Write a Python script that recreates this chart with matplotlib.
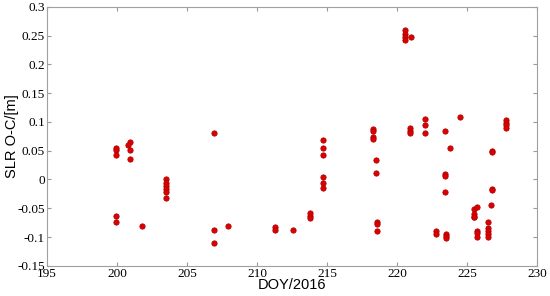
import matplotlib
matplotlib.use("Agg")
import matplotlib.pyplot as plt
import numpy as np

doy = [199.9, 199.9, 199.9, 199.9, 199.9,
       200.9, 200.8, 200.9, 200.9,
       201.8,
       203.5, 203.5, 203.5, 203.5, 203.5, 203.5,
       206.9, 206.9, 206.9,
       207.9,
       211.3, 211.3,
       212.55,
       213.8, 213.8, 213.8,
       214.7, 214.7, 214.7, 214.7, 214.7, 214.7,
       218.3, 218.3, 218.3, 218.3,
       218.5, 218.5,
       218.6, 218.6, 218.6,
       220.55, 220.55, 220.55, 220.55,
       221.0,
       220.9, 220.9, 220.9,
       222.0, 222.0, 222.0,
       223.4, 223.4, 223.4, 223.4,
       223.8,
       224.5,
       222.8, 222.8,
       223.5, 223.5, 223.5,
       225.5, 225.5, 225.5, 225.5,
       225.7, 225.7, 225.7, 225.7,
       226.5, 226.5, 226.5, 226.5, 226.5,
       226.7,
       226.8, 226.8, 226.8, 226.8,
       227.8, 227.8, 227.8, 227.8]

oc = [0.055, 0.051, 0.042, -0.064, -0.074,
      0.065, 0.060, 0.052, 0.035,
      -0.081,
      0.000, -0.006, -0.012, -0.017, -0.021, -0.033,
      0.080, -0.088, -0.110,
      -0.081,
      -0.083, -0.087,
      -0.088,
      -0.059, -0.063, -0.067,
      0.068, 0.055, 0.043, 0.005, -0.006, -0.015,
      0.087, 0.085, 0.074, 0.071,
      0.034, 0.012,
      -0.0745, -0.077, -0.089,
      0.259, 0.252, 0.247, 0.243,
      0.248,
      0.089, 0.085, 0.080,
      0.105, 0.094, 0.080,
      0.084, 0.009, 0.006, -0.021,
      0.055,
      0.109,
      -0.090, -0.095,
      -0.095, -0.099, -0.102,
      -0.051, -0.060, -0.065, -0.066,
      -0.048, -0.089, -0.093, -0.100,
      -0.0745, -0.084, -0.089, -0.095, -0.0995,
      -0.045,
      0.049, 0.048, -0.016, -0.019,
      0.103, 0.098, 0.094, 0.089]

x_ticks = np.arange(195, 231, 5)
y_ticks = [-0.15, -0.1, -0.05, 0, 0.05, 0.1, 0.15, 0.2, 0.25, 0.3]
y_labels = ["-0.15", "-0.1", "-0.05", "0", "0.05", "0.1", "0.15", "0.2", "0.25", "0.3"]

fig = plt.figure(figsize=(5.5, 2.96), dpi=100)
ax = fig.add_axes([0.0855, 0.102, 0.891, 0.875])

ax.plot(doy, oc, "o", color="#dc0000", markeredgecolor="#b40000",
        markersize=3.8, markeredgewidth=0.6)

ax.set_xlim(195, 230)
ax.set_ylim(-0.15, 0.3)
ax.set_xticks(x_ticks)
ax.set_yticks(y_ticks)
ax.set_yticklabels(y_labels)

for lab in ax.get_xticklabels() + ax.get_yticklabels():
    lab.set_family("Liberation Serif")
    lab.set_fontsize(9.5)

ax.tick_params(direction="in", length=3, color="#999999", top=True, right=True,
               pad=1.5)
for sp in ax.spines.values():
    sp.set_color("#a0a0a0")
    sp.set_linewidth(0.8)

ax.set_xlabel("DOY/2016", family="Liberation Sans", fontsize=10.5, labelpad=-1.5)
ax.set_ylabel("SLR O-C/[m]", family="Liberation Sans", fontsize=10.5, labelpad=-1)

fig.savefig("out.png", dpi=100)
